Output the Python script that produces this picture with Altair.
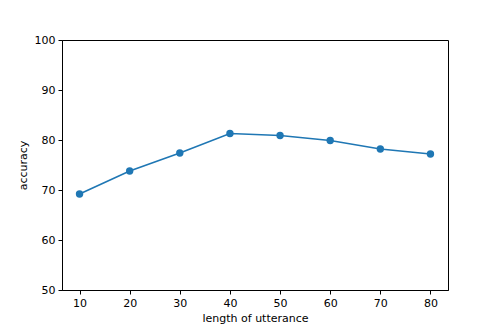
import altair as alt
import pandas as pd

lengths = [10, 20, 30, 40, 50, 60, 70, 80]
accuracy = [69.2, 73.8, 77.4, 81.3, 80.9, 79.9, 78.2, 77.2]
x_ticks = [10, 20, 30, 40, 50, 60, 70, 80]
y_ticks = [50, 60, 70, 80, 90, 100]

df = pd.DataFrame({"length": lengths, "accuracy": accuracy})

x = alt.X("length:Q", title="length of utterance",
          scale=alt.Scale(domain=[6.5, 83.5], nice=False, zero=False),
          axis=alt.Axis(values=x_ticks, format="d"))
y = alt.Y("accuracy:Q", title="accuracy",
          scale=alt.Scale(domain=[50, 100], nice=False, zero=False),
          axis=alt.Axis(values=y_ticks, format="d"))

base = alt.Chart(df).encode(x=x, y=y)
line = base.mark_line(color="#1f77b4", strokeWidth=1.6)
pts = base.mark_point(color="#1f77b4", filled=True, opacity=1, size=55)

chart = (line + pts).properties(
    width=386, height=250,
    autosize=alt.AutoSizeParams(type="none"),
    padding={"left": 54, "top": 32, "right": 40, "bottom": 40},
).configure_view(
    stroke="black", strokeWidth=1
).configure_axis(
    grid=False,
    domainColor="black", domainWidth=1,
    tickColor="black", tickSize=4, tickWidth=1,
    labelColor="black", labelFont="DejaVu Sans", labelFontSize=11,
    labelPadding=3,
    titleColor="black", titleFont="DejaVu Sans", titleFontSize=11,
    titleFontWeight="normal",
).configure_axisX(titlePadding=4).configure_axisY(titlePadding=6)

chart.save("out.html", embed_options={"renderer": "svg", "actions": False})
